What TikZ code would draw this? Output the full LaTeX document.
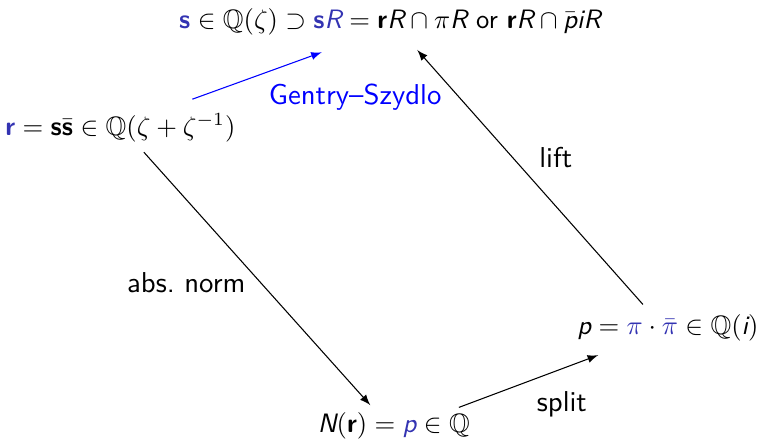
\documentclass[tikz,border=0pt]{standalone}
\usepackage{amsmath}
\usepackage{amssymb}
\usepackage{xcolor}
\usepackage{tikz}
\usetikzlibrary{calc}
\renewcommand{\familydefault}{\sfdefault}
\definecolor{StructBlue}{RGB}{51,51,178}
\definecolor{PureBlue}{RGB}{0,0,255}
\newcommand{\vb}[1]{\textbf{#1}}
\newcommand{\vi}[1]{\textit{#1}}

\begin{document}
\begin{tikzpicture}[
    every node/.style={font=\normalsize, inner sep=2pt},
    maplabel/.style={font=\fontsize{10.8}{13}\selectfont},
    map/.style={-latex, line width=0.4pt},
  ]
  \useasboundingbox (0,0) rectangle (10.01,5.88);

  % the four fields
  \node (top) at (5.15,5.59) {%
    $\color{StructBlue}\vb{s}\color{black} \in \mathbb{Q}(\zeta) \supset
     {\color{StructBlue}\vb{s}\vi{R}} = \vb{r}\vi{R} \cap \pi\vi{R}$
    or $\vb{r}\vi{R} \cap \bar{\vi{p}}\vi{iR}$};
  \node (left) at (1.59,4.19) {%
    ${\color{StructBlue}\vb{r}} = \vb{s}\bar{\vb{s}} \in \mathbb{Q}(\zeta+\zeta^{-1})$};
  \node (bot) at (5.20,0.26) {%
    $\vi{N}(\vb{r}) = {\color{StructBlue}\vi{p}} \in \mathbb{Q}$};
  \node (right) at (8.82,1.55) {%
    $\vi{p} = {\color{StructBlue}\pi} \cdot {\color{StructBlue}\bar{\pi}} \in \mathbb{Q}(\vi{i})$};

  % the maps
  \draw[map, PureBlue] ($(left)+(0.95,0.38)$) -- ($(top)+(-0.90,-0.40)$);
  \draw[map] ($(left)+(0.31,-0.32)$) -- ($(bot)+(-0.31,0.27)$);
  \draw[map] ($(bot)+(0.86,0.24)$) -- ($(right)+(-0.92,-0.36)$);
  \draw[map] ($(right)+(-0.33,0.31)$) -- ($(top)+(0.36,-0.37)$);

  \node[maplabel, text=PureBlue] (gs) at (4.69,4.60) {Gentry--Szydlo};
  \node[maplabel] (norm) at (2.46,2.15) {abs.\ norm};
  \node[maplabel] (split) at (7.42,0.54) {split};
  \node[maplabel] (lift) at (7.34,3.80) {lift};
\end{tikzpicture}
\end{document}
